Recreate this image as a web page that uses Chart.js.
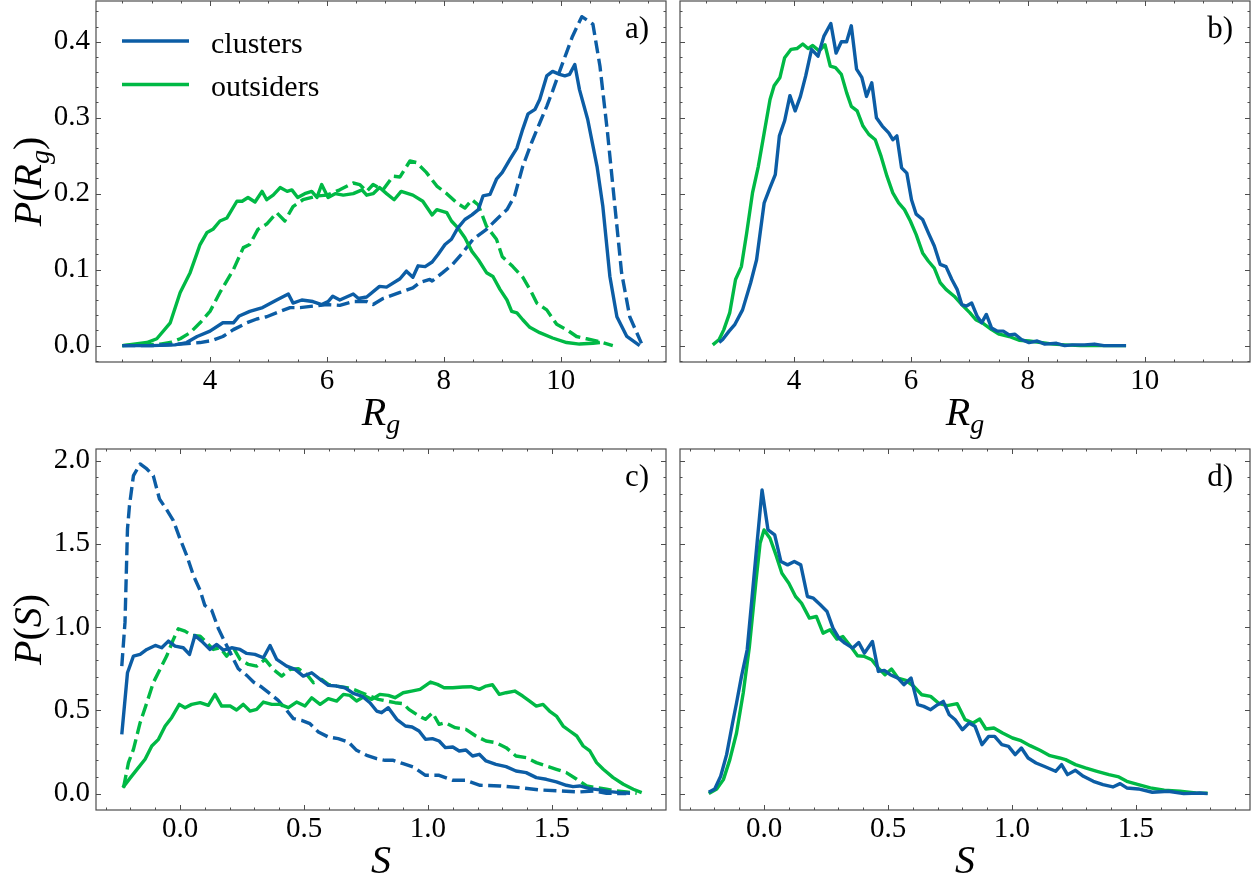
<!DOCTYPE html>
<html>
<head>
<meta charset="utf-8">
<script src="https://cdn.jsdelivr.net/npm/chart.js@4.4.1/dist/chart.umd.min.js"></script>
<style>
  html, body { margin: 0; padding: 0; background: #fff; overflow: hidden; }
  .panel { position: absolute; }
</style>
</head>
<body>
<div class="panel" style="left:0;top:0;width:680px;height:440px"><canvas id="pa"></canvas></div>
<div class="panel" style="left:666px;top:0;width:592px;height:440px"><canvas id="pb"></canvas></div>
<div class="panel" style="left:0;top:440px;width:680px;height:439px"><canvas id="pc"></canvas></div>
<div class="panel" style="left:666px;top:440px;width:592px;height:439px"><canvas id="pd"></canvas></div>
<script>
// ---- data: [x, y] pairs ----
// a) radius of gyration, solid and dashed
const rgClustersSolid = [[2.5,0],[3.0,0],[3.4,0.001],[3.6,0.004],[3.78,0.012],[4.0,0.019],[4.22,0.03],[4.4,0.03],[4.5,0.039],[4.68,0.045],[4.9,0.05],[5.14,0.06],[5.34,0.068],[5.42,0.056],[5.57,0.06],[5.76,0.058],[5.91,0.054],[6.02,0.058],[6.1,0.065],[6.22,0.06],[6.45,0.068],[6.54,0.062],[6.68,0.064],[6.9,0.078],[7.02,0.077],[7.25,0.088],[7.36,0.098],[7.47,0.09],[7.56,0.105],[7.68,0.104],[7.8,0.11],[7.9,0.12],[8.02,0.133],[8.13,0.14],[8.24,0.155],[8.36,0.166],[8.48,0.172],[8.59,0.179],[8.67,0.197],[8.79,0.199],[8.9,0.219],[9.0,0.228],[9.13,0.245],[9.25,0.26],[9.35,0.285],[9.44,0.305],[9.56,0.311],[9.64,0.324],[9.76,0.355],[9.86,0.361],[9.98,0.357],[10.07,0.355],[10.15,0.357],[10.24,0.37],[10.32,0.337],[10.46,0.298],[10.62,0.236],[10.72,0.183],[10.84,0.091],[10.96,0.038],[11.13,0.012],[11.35,0.0]];
const rgClustersDashed = [[2.5,0],[3.0,0],[3.5,0.002],[3.83,0.004],[4.05,0.007],[4.22,0.012],[4.4,0.021],[4.63,0.03],[4.8,0.035],[4.97,0.038],[5.2,0.045],[5.37,0.05],[5.54,0.05],[5.76,0.052],[6.0,0.054],[6.22,0.053],[6.45,0.058],[6.68,0.058],[6.79,0.054],[6.96,0.062],[7.25,0.07],[7.47,0.076],[7.59,0.083],[7.76,0.087],[7.8,0.085],[7.98,0.096],[8.15,0.107],[8.32,0.122],[8.5,0.14],[8.73,0.153],[8.9,0.166],[9.08,0.179],[9.21,0.197],[9.35,0.236],[9.5,0.267],[9.64,0.293],[9.76,0.315],[9.86,0.335],[9.98,0.361],[10.1,0.386],[10.2,0.407],[10.36,0.433],[10.46,0.428],[10.55,0.423],[10.67,0.368],[10.8,0.28],[10.92,0.188],[11.04,0.096],[11.18,0.038],[11.38,0.003]];
const rgOutsidersSolid = [[2.5,0],[2.92,0.004],[3.09,0.009],[3.32,0.03],[3.49,0.07],[3.66,0.096],[3.78,0.122],[3.83,0.133],[3.95,0.149],[4.05,0.153],[4.17,0.164],[4.29,0.168],[4.46,0.19],[4.55,0.19],[4.65,0.195],[4.77,0.189],[4.89,0.203],[4.97,0.192],[5.08,0.198],[5.2,0.208],[5.32,0.203],[5.4,0.205],[5.5,0.195],[5.62,0.2],[5.74,0.203],[5.83,0.195],[5.91,0.212],[6.02,0.195],[6.14,0.2],[6.28,0.198],[6.45,0.2],[6.6,0.205],[6.68,0.198],[6.79,0.2],[6.9,0.208],[7.02,0.2],[7.15,0.192],[7.27,0.203],[7.47,0.198],[7.64,0.19],[7.8,0.172],[7.88,0.179],[8.05,0.175],[8.13,0.164],[8.24,0.155],[8.36,0.142],[8.48,0.124],[8.59,0.113],[8.73,0.096],[8.84,0.091],[8.96,0.074],[9.08,0.06],[9.16,0.045],[9.25,0.043],[9.35,0.034],[9.47,0.024],[9.64,0.017],[9.86,0.01],[10.1,0.004],[10.32,0.002],[10.55,0.003],[10.67,0.004]];
const rgOutsidersDashed = [[2.5,0],[3.15,0.002],[3.32,0.004],[3.49,0.009],[3.66,0.017],[3.83,0.03],[4.0,0.045],[4.17,0.07],[4.4,0.1],[4.57,0.129],[4.68,0.133],[4.82,0.153],[4.97,0.16],[5.14,0.175],[5.28,0.164],[5.42,0.183],[5.59,0.192],[5.83,0.197],[6.0,0.198],[6.22,0.205],[6.45,0.214],[6.56,0.212],[6.68,0.203],[6.79,0.212],[6.96,0.205],[7.13,0.223],[7.25,0.222],[7.42,0.243],[7.53,0.241],[7.7,0.228],[7.88,0.21],[8.05,0.2],[8.22,0.188],[8.36,0.181],[8.48,0.192],[8.59,0.185],[8.73,0.157],[8.9,0.14],[9.0,0.117],[9.18,0.104],[9.35,0.09],[9.5,0.07],[9.59,0.056],[9.76,0.047],[9.93,0.028],[10.1,0.021],[10.27,0.012],[10.44,0.009],[10.67,0.005],[10.89,0.0]];

// b) radius of gyration, second set
const rgClustersB = [[2.72,0.004],[2.78,0.008],[2.89,0.019],[2.99,0.028],[3.12,0.047],[3.26,0.083],[3.36,0.113],[3.49,0.188],[3.59,0.208],[3.68,0.225],[3.75,0.276],[3.84,0.296],[3.93,0.329],[4.02,0.309],[4.11,0.328],[4.2,0.355],[4.3,0.39],[4.41,0.381],[4.51,0.407],[4.63,0.424],[4.72,0.385],[4.81,0.4],[4.9,0.4],[4.98,0.421],[5.07,0.364],[5.16,0.353],[5.24,0.328],[5.33,0.346],[5.41,0.3],[5.51,0.289],[5.62,0.28],[5.69,0.271],[5.76,0.276],[5.84,0.234],[5.93,0.227],[6.01,0.192],[6.09,0.173],[6.2,0.166],[6.3,0.148],[6.4,0.131],[6.5,0.107],[6.6,0.104],[6.7,0.087],[6.79,0.074],[6.87,0.054],[6.95,0.052],[7.04,0.056],[7.13,0.039],[7.21,0.03],[7.29,0.041],[7.38,0.023],[7.48,0.019],[7.58,0.019],[7.68,0.014],[7.78,0.015],[7.89,0.008],[8.02,0.004],[8.16,0.006],[8.29,0.002],[8.49,0.003],[8.63,0.0],[8.76,0.001],[8.97,0.001],[9.14,0.002],[9.3,0],[9.68,0]];
const rgOutsidersB = [[2.61,0.001],[2.72,0.008],[2.8,0.021],[2.9,0.043],[3.0,0.087],[3.1,0.104],[3.19,0.148],[3.29,0.201],[3.39,0.236],[3.49,0.28],[3.59,0.324],[3.66,0.342],[3.76,0.353],[3.84,0.379],[3.95,0.39],[4.05,0.391],[4.15,0.397],[4.24,0.391],[4.32,0.395],[4.43,0.388],[4.53,0.396],[4.62,0.368],[4.71,0.366],[4.81,0.357],[4.9,0.333],[4.98,0.315],[5.08,0.309],[5.18,0.289],[5.28,0.278],[5.39,0.271],[5.49,0.249],[5.59,0.223],[5.69,0.201],[5.79,0.188],[5.89,0.179],[5.99,0.164],[6.09,0.146],[6.2,0.122],[6.3,0.111],[6.4,0.102],[6.5,0.083],[6.6,0.074],[6.74,0.065],[6.87,0.054],[7.01,0.043],[7.11,0.034],[7.24,0.029],[7.38,0.021],[7.51,0.015],[7.68,0.012],[7.85,0.007],[8.02,0.006],[8.22,0.004],[8.43,0.002],[8.63,0.001],[8.9,0],[9.3,0],[9.68,0]];

// c) S, solid and dashed
const sClustersSolid = [[-0.235,0.356],[-0.212,0.726],[-0.188,0.826],[-0.161,0.836],[-0.134,0.866],[-0.1,0.89],[-0.074,0.876],[-0.047,0.916],[-0.02,0.886],[0.013,0.876],[0.038,0.836],[0.06,0.95],[0.087,0.916],[0.121,0.866],[0.148,0.896],[0.175,0.862],[0.208,0.876],[0.242,0.866],[0.269,0.842],[0.302,0.836],[0.336,0.816],[0.363,0.89],[0.39,0.806],[0.43,0.766],[0.464,0.746],[0.497,0.706],[0.531,0.726],[0.565,0.686],[0.598,0.65],[0.632,0.646],[0.665,0.636],[0.699,0.602],[0.733,0.586],[0.766,0.546],[0.793,0.496],[0.813,0.486],[0.84,0.516],[0.874,0.446],[0.909,0.406],[0.936,0.4],[0.964,0.376],[0.99,0.326],[1.018,0.33],[1.045,0.316],[1.07,0.276],[1.1,0.28],[1.126,0.256],[1.153,0.262],[1.18,0.226],[1.207,0.236],[1.234,0.196],[1.274,0.176],[1.315,0.162],[1.355,0.136],[1.396,0.126],[1.437,0.096],[1.477,0.086],[1.518,0.07],[1.558,0.05],[1.585,0.042],[1.612,0.046],[1.653,0.03],[1.693,0.022],[1.734,0.012],[1.774,0.006],[1.815,0.002]];
const sClustersDashed = [[-0.235,0.766],[-0.222,1.03],[-0.212,1.59],[-0.204,1.73],[-0.188,1.91],[-0.161,1.98],[-0.134,1.95],[-0.108,1.91],[-0.083,1.77],[-0.056,1.71],[-0.027,1.64],[0.0,1.53],[0.027,1.43],[0.054,1.31],[0.081,1.22],[0.1,1.13],[0.128,1.1],[0.155,0.99],[0.181,0.91],[0.208,0.83],[0.235,0.75],[0.269,0.71],[0.296,0.67],[0.329,0.64],[0.363,0.6],[0.396,0.56],[0.43,0.5],[0.457,0.45],[0.49,0.44],[0.524,0.42],[0.558,0.37],[0.598,0.34],[0.638,0.33],[0.679,0.31],[0.712,0.26],[0.753,0.23],[0.793,0.21],[0.827,0.2],[0.86,0.2],[0.9,0.18],[0.94,0.16],[0.99,0.11],[1.045,0.11],[1.1,0.08],[1.15,0.08],[1.21,0.05],[1.29,0.046],[1.37,0.036],[1.45,0.022],[1.53,0.016],[1.61,0.01],[1.67,0.016],[1.72,0.002],[1.8,0.0]];
const sOutsidersSolid = [[-0.231,0.036],[-0.2,0.096],[-0.168,0.156],[-0.141,0.206],[-0.114,0.286],[-0.087,0.326],[-0.06,0.406],[-0.034,0.456],[-0.003,0.536],[0.02,0.516],[0.047,0.536],[0.081,0.546],[0.114,0.53],[0.141,0.596],[0.168,0.526],[0.202,0.526],[0.228,0.502],[0.255,0.536],[0.282,0.496],[0.309,0.506],[0.336,0.55],[0.37,0.536],[0.403,0.536],[0.437,0.516],[0.47,0.55],[0.504,0.526],[0.531,0.576],[0.565,0.536],[0.598,0.57],[0.632,0.556],[0.659,0.596],[0.685,0.59],[0.712,0.556],[0.746,0.586],[0.773,0.566],[0.806,0.596],[0.84,0.59],[0.867,0.576],[0.9,0.606],[0.934,0.616],[0.968,0.626],[1.01,0.67],[1.038,0.656],[1.065,0.636],[1.1,0.636],[1.14,0.64],[1.173,0.642],[1.207,0.626],[1.234,0.646],[1.26,0.654],[1.288,0.596],[1.315,0.606],[1.35,0.616],[1.382,0.586],[1.41,0.556],[1.437,0.526],[1.464,0.536],[1.49,0.496],[1.518,0.466],[1.545,0.406],[1.572,0.376],[1.6,0.346],[1.626,0.286],[1.653,0.256],[1.68,0.186],[1.707,0.146],[1.747,0.096],[1.788,0.056],[1.828,0.026],[1.862,0.006]];
const sOutsidersDashed = [[-0.228,0.036],[-0.208,0.186],[-0.188,0.266],[-0.161,0.426],[-0.134,0.546],[-0.108,0.666],[-0.081,0.746],[-0.054,0.826],[-0.027,0.926],[-0.007,0.99],[0.02,0.976],[0.047,0.95],[0.081,0.946],[0.108,0.906],[0.134,0.866],[0.161,0.876],[0.188,0.826],[0.215,0.876],[0.242,0.806],[0.276,0.776],[0.309,0.766],[0.343,0.806],[0.376,0.746],[0.41,0.706],[0.444,0.746],[0.477,0.75],[0.511,0.716],[0.538,0.666],[0.571,0.686],[0.598,0.656],[0.632,0.646],[0.672,0.636],[0.699,0.626],[0.733,0.606],[0.766,0.586],[0.8,0.566],[0.833,0.556],[0.867,0.546],[0.9,0.54],[0.923,0.506],[0.964,0.466],[0.99,0.446],[1.018,0.486],[1.045,0.416],[1.07,0.426],[1.11,0.396],[1.153,0.386],[1.193,0.346],[1.234,0.316],[1.274,0.306],[1.315,0.276],[1.355,0.226],[1.396,0.216],[1.437,0.186],[1.477,0.166],[1.518,0.146],[1.558,0.126],[1.6,0.086],[1.64,0.046],[1.68,0.036],[1.72,0.026],[1.76,0.016],[1.8,0.01],[1.842,0.002]];

// d) S, second set
const sClustersD = [[-0.223,0.008],[-0.199,0.028],[-0.175,0.104],[-0.151,0.234],[-0.127,0.424],[-0.111,0.544],[-0.091,0.704],[-0.068,0.864],[-0.048,1.184],[-0.027,1.524],[-0.008,1.824],[0.016,1.584],[0.043,1.554],[0.068,1.394],[0.095,1.374],[0.122,1.394],[0.148,1.374],[0.175,1.184],[0.199,1.174],[0.227,1.134],[0.254,1.094],[0.278,0.994],[0.302,0.934],[0.326,0.904],[0.358,0.874],[0.382,0.908],[0.405,0.844],[0.437,0.914],[0.461,0.734],[0.485,0.74],[0.509,0.714],[0.54,0.694],[0.564,0.654],[0.593,0.694],[0.62,0.534],[0.644,0.524],[0.672,0.504],[0.7,0.534],[0.723,0.554],[0.747,0.474],[0.771,0.444],[0.8,0.384],[0.827,0.424],[0.851,0.404],[0.879,0.294],[0.906,0.344],[0.93,0.344],[0.959,0.294],[0.986,0.284],[1.013,0.234],[1.038,0.274],[1.065,0.214],[1.097,0.184],[1.129,0.164],[1.176,0.134],[1.2,0.174],[1.224,0.114],[1.256,0.14],[1.288,0.104],[1.328,0.074],[1.367,0.054],[1.407,0.04],[1.436,0.06],[1.463,0.034],[1.51,0.028],[1.566,0.008],[1.63,0.014],[1.693,0.0],[1.757,0.004],[1.789,0]];
const sOutsidersD = [[-0.223,0.0],[-0.191,0.028],[-0.164,0.084],[-0.138,0.204],[-0.111,0.364],[-0.084,0.604],[-0.059,0.884],[-0.032,1.284],[-0.016,1.504],[0.0,1.584],[0.024,1.534],[0.048,1.434],[0.072,1.324],[0.1,1.264],[0.127,1.184],[0.151,1.144],[0.183,1.054],[0.211,1.064],[0.238,0.964],[0.266,0.984],[0.294,0.928],[0.318,0.944],[0.35,0.884],[0.377,0.828],[0.405,0.824],[0.434,0.804],[0.461,0.754],[0.488,0.714],[0.514,0.748],[0.54,0.694],[0.572,0.68],[0.604,0.644],[0.636,0.594],[0.672,0.584],[0.707,0.54],[0.739,0.528],[0.779,0.54],[0.811,0.444],[0.843,0.424],[0.87,0.448],[0.895,0.388],[0.927,0.394],[0.962,0.364],[1.002,0.334],[1.033,0.32],[1.073,0.288],[1.113,0.26],[1.153,0.228],[1.192,0.214],[1.216,0.204],[1.256,0.174],[1.296,0.154],[1.343,0.134],[1.391,0.114],[1.431,0.1],[1.463,0.074],[1.51,0.054],[1.558,0.034],[1.614,0.02],[1.677,0.014],[1.741,0.004],[1.789,0.002]];

// tick labels
const rgTicks = [4, 6, 8, 10];
const pRgTicks = [0.0, 0.1, 0.2, 0.3, 0.4];
const sTicks = [0.0, 0.5, 1.0, 1.5];
const pSTicks = [0.0, 0.5, 1.0, 1.5, 2.0];
const legendLabels = ['clusters', 'outsiders'];
const panelTags = ['a)', 'b)', 'c)', 'd)'];

const BLUE = '#0C5DA5';
const GREEN = '#00B945';
const SERIF = '"Liberation Serif", "Times New Roman", serif';
const DASH = [13, 5.5];
const LINE_W = 3.4;

function pts(list) {
  return list.map(p => ({ x: p[0], y: p[1] }));
}

// draw a run of text pieces (italic / subscript) centred on cx, baseline y
function drawPieces(ctx, pieces, cx, y, size) {
  const fontOf = p => (p.up ? '' : 'italic ') + Math.round(p.sub ? size * 0.7 : size) + 'px ' + SERIF;
  let total = 0;
  pieces.forEach(p => { ctx.font = fontOf(p); total += ctx.measureText(p.t).width; });
  let x = cx - total / 2;
  ctx.textAlign = 'left';
  ctx.textBaseline = 'alphabetic';
  pieces.forEach(p => {
    ctx.font = fontOf(p);
    ctx.fillText(p.t, x, p.sub ? y + size * 0.2 : y);
    x += ctx.measureText(p.t).width;
  });
}

// frame, inward ticks on all sides, axis titles, panel tag, legend
function decoFor(cfg) {
  return {
    id: 'deco',
    afterDatasetsDraw(chart) {
      const ctx = chart.ctx;
      const a = chart.chartArea;
      const xs = chart.scales.x, ys = chart.scales.y;
      ctx.save();
      ctx.strokeStyle = '#4d4d4d';
      ctx.lineWidth = 1;

      function stepVals(min, max, step) {
        const out = [];
        for (let k = Math.ceil(min / step - 1e-9); k * step <= max + 1e-9; k++) out.push(k * step);
        return out;
      }
      ctx.beginPath();
      stepVals(cfg.xMin, cfg.xMax, cfg.xMinor).forEach(v => {
        const big = cfg.xTicks.some(m => Math.abs(m - v) < 1e-6);
        const len = big ? 5 : 2.5;
        const px = Math.round(xs.getPixelForValue(v)) + 0.5;
        ctx.moveTo(px, a.bottom); ctx.lineTo(px, a.bottom - len);
        ctx.moveTo(px, a.top); ctx.lineTo(px, a.top + len);
      });
      stepVals(cfg.yMin, cfg.yMax, cfg.yMinor).forEach(v => {
        const big = cfg.yTicks.some(m => Math.abs(m - v) < 1e-6);
        const len = big ? 5 : 2.5;
        const py = Math.round(ys.getPixelForValue(v)) + 0.5;
        ctx.moveTo(a.left, py); ctx.lineTo(a.left + len, py);
        ctx.moveTo(a.right, py); ctx.lineTo(a.right - len, py);
      });
      ctx.stroke();

      ctx.lineWidth = 1.2;
      ctx.strokeRect(a.left, a.top, a.right - a.left, a.bottom - a.top);

      ctx.fillStyle = '#000';
      drawPieces(ctx, cfg.xTitle, (a.left + a.right) / 2, a.bottom + 63, 40);
      if (cfg.yTitle) {
        ctx.save();
        ctx.translate(a.left - 55, (a.top + a.bottom) / 2);
        ctx.rotate(-Math.PI / 2);
        drawPieces(ctx, cfg.yTitle, 0, 0, 40);
        ctx.restore();
      }
      ctx.font = '31px ' + SERIF;
      ctx.textAlign = 'right';
      ctx.textBaseline = 'alphabetic';
      ctx.fillText(cfg.tag, a.right - 17, a.top + 37);

      if (cfg.legend) {
        const colors = [BLUE, GREEN];
        legendLabels.forEach((lab, i) => {
          const ly = a.top + 40 + i * 43.5;
          ctx.strokeStyle = colors[i];
          ctx.lineWidth = LINE_W;
          ctx.setLineDash([]);
          ctx.beginPath();
          ctx.moveTo(a.left + 26, ly);
          ctx.lineTo(a.left + 93, ly);
          ctx.stroke();
          ctx.fillStyle = '#000';
          ctx.font = '30px ' + SERIF;
          ctx.textAlign = 'left';
          ctx.fillText(lab, a.left + 115, ly + 11.5);
        });
      }
      ctx.restore();
    }
  };
}

function makePanel(id, cfg) {
  const datasets = cfg.series.map(s => ({
    data: pts(s.data),
    borderColor: s.color,
    borderWidth: LINE_W,
    borderDash: s.dashed ? DASH : [],
    borderJoinStyle: 'round',
    borderCapStyle: 'butt',
    pointRadius: 0,
    fill: false,
    tension: 0
  }));
  const tickFont = { family: SERIF, size: 29 };
  const noPad = ax => { ax.paddingTop = 0; ax.paddingBottom = 0; ax.paddingLeft = 0; ax.paddingRight = 0; };
  return new Chart(document.getElementById(id), {
    type: 'line',
    data: { datasets },
    options: {
      responsive: true,
      maintainAspectRatio: false,
      animation: false,
      events: [],
      layout: { padding: { left: 0, top: cfg.padTop, right: cfg.padRight, bottom: 0 } },
      plugins: { legend: { display: false }, tooltip: { enabled: false } },
      scales: {
        x: {
          type: 'linear', position: 'bottom', min: cfg.xMin, max: cfg.xMax,
          grid: { display: false, drawTicks: false },
          border: { display: false },
          afterBuildTicks: ax => { ax.ticks = cfg.xTicks.map(v => ({ value: v })); },
          afterFit: ax => { ax.height = cfg.xAxisH; noPad(ax); },
          ticks: {
            font: tickFont, color: '#000', padding: 2, maxRotation: 0, autoSkip: false,
            callback: v => Number(v).toFixed(cfg.xDigits)
          }
        },
        y: {
          type: 'linear', position: 'left', min: cfg.yMin, max: cfg.yMax,
          grid: { display: false, drawTicks: false },
          border: { display: false },
          afterBuildTicks: ax => { ax.ticks = cfg.yTicks.map(v => ({ value: v })); },
          afterFit: ax => { ax.width = cfg.yAxisW; noPad(ax); },
          ticks: {
            display: cfg.showY, font: tickFont, color: '#000', padding: 6, autoSkip: false,
            callback: v => Number(v).toFixed(1)
          }
        }
      }
    },
    plugins: [decoFor(cfg)]
  });
}

const titleRg = [{ t: 'R' }, { t: 'g', sub: true }];
const titlePRg = [{ t: 'P' }, { t: '(', up: true }, { t: 'R' }, { t: 'g', sub: true }, { t: ')', up: true }];
const titleS = [{ t: 'S' }];
const titlePS = [{ t: 'P' }, { t: '(', up: true }, { t: 'S' }, { t: ')', up: true }];

const topRange = { xMin: 2.05, xMax: 11.8, yMin: -0.0216, yMax: 0.4536, xTicks: rgTicks, yTicks: pRgTicks, xMinor: 0.5, yMinor: 0.02, xDigits: 0 };
const botRange = { xMin: -0.339, xMax: 1.96, yMin: -0.0985, yMax: 2.07, xTicks: sTicks, yTicks: pSTicks, xMinor: 0.1, yMinor: 0.1, xDigits: 1 };

makePanel('pa', Object.assign({}, topRange, {
  series: [
    { data: rgClustersSolid, color: BLUE },
    { data: rgOutsidersSolid, color: GREEN },
    { data: rgClustersDashed, color: BLUE, dashed: true },
    { data: rgOutsidersDashed, color: GREEN, dashed: true }
  ],
  showY: true, yAxisW: 96, padTop: 1, padRight: 14, xAxisH: 78,
  xTitle: titleRg, yTitle: titlePRg, tag: panelTags[0], legend: true
}));

makePanel('pb', Object.assign({}, topRange, {
  series: [
    { data: rgClustersB, color: BLUE },
    { data: rgOutsidersB, color: GREEN }
  ],
  showY: false, yAxisW: 14, padTop: 1, padRight: 8, xAxisH: 78,
  xTitle: titleRg, yTitle: null, tag: panelTags[1], legend: false
}));

makePanel('pc', Object.assign({}, botRange, {
  series: [
    { data: sClustersSolid, color: BLUE },
    { data: sOutsidersSolid, color: GREEN },
    { data: sClustersDashed, color: BLUE, dashed: true },
    { data: sOutsidersDashed, color: GREEN, dashed: true }
  ],
  showY: true, yAxisW: 96, padTop: 9, padRight: 14, xAxisH: 69,
  xTitle: titleS, yTitle: titlePS, tag: panelTags[2], legend: false
}));

makePanel('pd', Object.assign({}, botRange, {
  series: [
    { data: sClustersD, color: BLUE },
    { data: sOutsidersD, color: GREEN }
  ],
  showY: false, yAxisW: 14, padTop: 9, padRight: 8, xAxisH: 69,
  xTitle: titleS, yTitle: null, tag: panelTags[3], legend: false
}));
</script>
</body>
</html>
